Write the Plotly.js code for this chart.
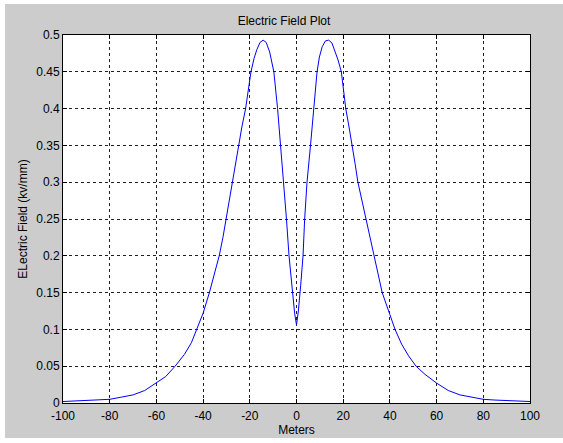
<!DOCTYPE html>
<html>
<head>
<meta charset="utf-8">
<script src="https://cdn.plot.ly/plotly-3.0.1.min.js"></script>
<style>
html,body{margin:0;padding:0;background:#ffffff;width:563px;height:443px;overflow:hidden;}
#chart{position:absolute;left:5px;top:4px;width:558px;height:434px;}
</style>
</head>
<body>
<div id="chart"></div>
<script>
// Distance along the ground (meters)
const meters = [
  -100, -95, -90, -85, -80, -75, -70, -65, -60, -56, -52, -48, -45, -42.7, -40,
  -37.3, -35, -33.1, -31.5, -30.2, -28.8, -27.5, -26.2, -25, -23.4, -21.8, -20.6,
  -19.5, -18.2, -17, -15.6, -14.3, -13, -11.5, -10.5, -9.7, -8.1, -6.8, -5.4, -4.3,
  -3.2, -1.7, -0.8, 0,
  0.8, 1.8, 2.8, 3.5, 4.5, 6.0, 7.5, 8.8, 9.8, 11.0, 12.4, 13.8, 15.2, 16.6, 17.8,
  19.2, 20.1, 21.1, 22.5, 23.9, 25.1, 26.3, 28.0, 29.7, 31.3, 33.0, 34.8, 36.7, 40,
  42.2, 45, 48, 51.2, 55, 60, 65, 70, 75, 80, 85, 90, 95, 100
];
// Electric field (kV/mm)
const field = [
  0.002, 0.003, 0.004, 0.004, 0.005, 0.008, 0.011, 0.017, 0.027, 0.036, 0.050, 0.066, 0.082, 0.100, 0.122,
  0.150, 0.176, 0.200, 0.225, 0.250, 0.275, 0.300, 0.325, 0.350, 0.375, 0.400, 0.425,
  0.450, 0.468, 0.480, 0.490, 0.493, 0.490, 0.477, 0.462, 0.450, 0.400, 0.350, 0.300, 0.250,
  0.200, 0.150, 0.122, 0.106,
  0.125, 0.160, 0.200, 0.250, 0.300, 0.350, 0.400, 0.450, 0.470, 0.484, 0.492, 0.493, 0.489, 0.478, 0.466,
  0.450, 0.425, 0.400, 0.375, 0.350, 0.325, 0.300, 0.275, 0.250, 0.225, 0.200, 0.175, 0.150, 0.120,
  0.100, 0.080, 0.064, 0.050, 0.039, 0.027, 0.017, 0.011, 0.008, 0.005, 0.004, 0.003, 0.003, 0.002
];
const xTicks = [-100, -80, -60, -40, -20, 0, 20, 40, 60, 80, 100];
const yTicks = [0, 0.05, 0.1, 0.15, 0.2, 0.25, 0.3, 0.35, 0.4, 0.45, 0.5];
const yTickText = ['0', '0.05', '0.1', '0.15', '0.2', '0.25', '0.3', '0.35', '0.4', '0.45', '0.5'];

const font = {family: 'Liberation Sans, Arial, sans-serif', size: 12, color: '#000000'};

const trace = {
  x: meters, y: field, type: 'scatter', mode: 'lines',
  line: {color: '#0000ff', width: 1}, hoverinfo: 'skip'
};

const axisCommon = {
  showline: true, linecolor: '#000000', linewidth: 1, mirror: 'allticks',
  ticks: 'inside', ticklen: 4, tickcolor: '#000000', tickwidth: 1,
  showgrid: true, gridcolor: '#202020', gridwidth: 1, griddash: '3px,3px',
  zeroline: false, tickfont: font
};

const layout = {
  width: 558, height: 434,
  paper_bgcolor: '#cccccc', plot_bgcolor: '#ffffff',
  margin: {l: 58, r: 33, t: 31, b: 35, pad: 0},
  showlegend: false,
  font: font,
  title: {text: 'Electric Field Plot', font: font, x: 0.5, xanchor: 'center', y: 0.962, yanchor: 'middle'},
  xaxis: Object.assign({}, axisCommon, {
    range: [-100, 100], tickvals: xTicks, ticktext: xTicks.map(String),
    ticklabelstandoff: 2,
    title: {text: 'Meters', font: font, standoff: 2}
  }),
  yaxis: Object.assign({}, axisCommon, {
    range: [0, 0.5], tickvals: yTicks, ticktext: yTickText,
    title: {text: 'ELectric Field (kv/mm)', font: font, standoff: 6}
  })
};

Plotly.newPlot('chart', [trace], layout, {staticPlot: true, displayModeBar: false});
</script>
</body>
</html>
